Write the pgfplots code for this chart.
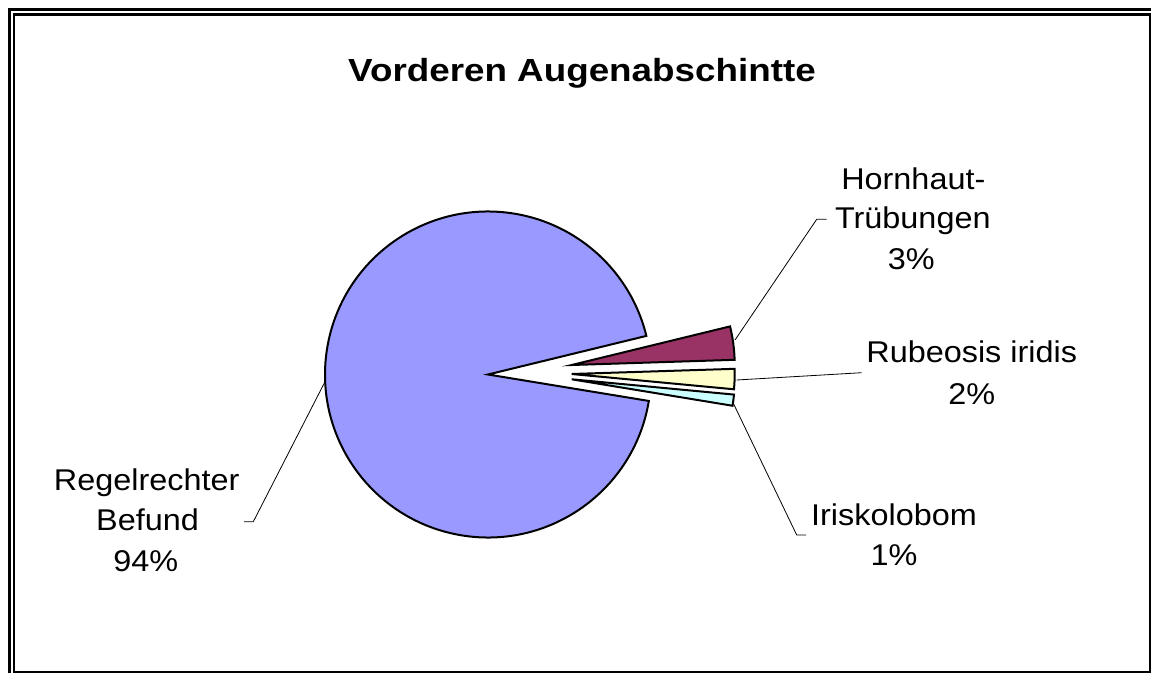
\documentclass[border=0pt]{standalone}
\usepackage{pgfplots}
\pgfplotsset{compat=1.18}
\usepackage{pgfplotstable}
\usepackage{fontspec}
\setmainfont{Liberation Sans}
\usepackage{graphicx}

\definecolor{cRegel}{HTML}{9999FF}
\definecolor{cHorn}{HTML}{993366}
\definecolor{cRub}{HTML}{FFFFCC}
\definecolor{cIris}{HTML}{CCFFFF}

% slice values (percent) and explosion offsets (px, y downwards)
\pgfplotstableread{
idx value dx dy
0 3.3 83.7 -9.5
1 2.0 83.7 -0.5
2 1.1 83.7 4.8
3 93.6 0 0
}\piedata

\newcommand\lbl{\fontsize{22.5pt}{27pt}\selectfont}
\newcommand\ttl{\fontsize{24pt}{29pt}\selectfont\bfseries}
\newcommand\sx[1]{\scalebox{1.08}[1]{#1}}

\begin{document}
\begin{tikzpicture}
\def\R{122.25pt}
\def\cx{488}\def\cy{374.5}
\pgfmathsetmacro\aStart{13.7}
\pgfplotstablegetelem{0}{value}\of\piedata \pgfmathsetmacro\aA{\aStart-3.6*\pgfplotsretval}
\pgfplotstablegetelem{1}{value}\of\piedata \pgfmathsetmacro\aB{\aA-3.6*\pgfplotsretval}
\pgfplotstablegetelem{2}{value}\of\piedata \pgfmathsetmacro\aC{\aB-3.6*\pgfplotsretval}
\pgfplotstablegetelem{3}{value}\of\piedata \pgfmathsetmacro\aD{\aC-3.6*\pgfplotsretval}
\pgfplotstablegetelem{0}{dx}\of\piedata \pgfmathsetmacro\pxA{\cx+\pgfplotsretval}
\pgfplotstablegetelem{0}{dy}\of\piedata \pgfmathsetmacro\pyA{\cy+\pgfplotsretval}
\pgfplotstablegetelem{1}{dx}\of\piedata \pgfmathsetmacro\pxB{\cx+\pgfplotsretval}
\pgfplotstablegetelem{1}{dy}\of\piedata \pgfmathsetmacro\pyB{\cy+\pgfplotsretval}
\pgfplotstablegetelem{2}{dx}\of\piedata \pgfmathsetmacro\pxC{\cx+\pgfplotsretval}
\pgfplotstablegetelem{2}{dy}\of\piedata \pgfmathsetmacro\pyC{\cy+\pgfplotsretval}
\begin{axis}[
  x=0.75pt, y=0.75pt, y dir=reverse,
  xmin=0, xmax=1151, ymin=0, ymax=673,
  hide axis, clip=false, scale only axis,
]
% frame
\draw[line width=2.4pt] (axis cs:9.5,673) -- (axis cs:9.5,9.5) -- (axis cs:1151,9.5);
\draw[line width=1.9pt] (axis cs:14.2,673) -- (axis cs:14.2,14.5) -- (axis cs:1151,14.5);
\draw[line width=1.1pt] (axis cs:1150.2,14) -- (axis cs:1150.2,672.2) -- (axis cs:14,672.2);

% pie
\filldraw[fill=cRegel, draw=black, line width=1.5pt]
  (axis cs:\cx,\cy) -- ++(\aC:\R) arc[start angle=\aC, end angle=\aD, radius=\R] -- cycle;
\filldraw[fill=cHorn, draw=black, line width=1.5pt]
  (axis cs:\pxA,\pyA) -- ++(\aStart:\R) arc[start angle=\aStart, end angle=\aA, radius=\R] -- cycle;
\filldraw[fill=cRub, draw=black, line width=1.5pt]
  (axis cs:\pxB,\pyB) -- ++(\aA:\R) arc[start angle=\aA, end angle=\aB, radius=\R] -- cycle;
\filldraw[fill=cIris, draw=black, line width=1.5pt]
  (axis cs:\pxC,\pyC) -- ++(\aB:\R) arc[start angle=\aB, end angle=\aC, radius=\R] -- cycle;

% leader lines
\draw[line width=0.6pt] (axis cs:735,340) -- (axis cs:816.7,219.3) -- (axis cs:826.7,219.3);
\draw[line width=0.6pt] (axis cs:736.7,380) -- (axis cs:861.7,372.7);
\draw[line width=0.6pt] (axis cs:733.3,403.3) -- (axis cs:796.7,535) -- (axis cs:806,535);
\draw[line width=0.6pt] (axis cs:325,381.7) -- (axis cs:253.3,521.7) -- (axis cs:244,521.7);

% title
\node[anchor=base, inner sep=0pt, font=\ttl] at (axis cs:582,82) {\scalebox{1.15}[1]{Vorderen Augenabschintte}};

% labels
\node[anchor=base, inner sep=0pt, font=\lbl] at (axis cs:913.3,189.3) {\sx{Hornhaut-}};
\node[anchor=base, inner sep=0pt, font=\lbl] at (axis cs:912.8,228.3) {\sx{Trübungen}};
\node[anchor=base, inner sep=0pt, font=\lbl] at (axis cs:911.3,270) {\sx{3\%}};
\node[anchor=base, inner sep=0pt, font=\lbl] at (axis cs:971.7,362.7) {\sx{Rubeosis iridis}};
\node[anchor=base, inner sep=0pt, font=\lbl] at (axis cs:971.7,404) {\sx{2\%}};
\node[anchor=base, inner sep=0pt, font=\lbl] at (axis cs:894,525) {\sx{Iriskolobom}};
\node[anchor=base, inner sep=0pt, font=\lbl] at (axis cs:894,565) {\sx{1\%}};
\node[anchor=base, inner sep=0pt, font=\lbl] at (axis cs:146.7,490.7) {\sx{Regelrechter}};
\node[anchor=base, inner sep=0pt, font=\lbl] at (axis cs:147.5,530.7) {\sx{Befund}};
\node[anchor=base, inner sep=0pt, font=\lbl] at (axis cs:145.8,571.7) {\sx{94\%}};

\coordinate (BL) at (axis cs:0,673);
\coordinate (TR) at (axis cs:1151,0);
\end{axis}
\pgfresetboundingbox
\path[use as bounding box] (BL) rectangle (TR);
\end{tikzpicture}
\end{document}
